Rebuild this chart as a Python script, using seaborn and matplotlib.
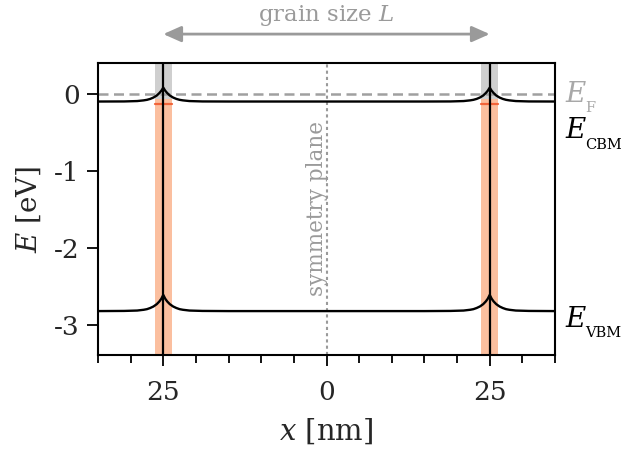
import matplotlib
matplotlib.use("Agg")
import matplotlib.pyplot as plt
import seaborn as sns
import pandas as pd

# ---- data ----
x_nm = [-35, -31, -29, -28, -27.5, -27, -26.5, -26, -25.6, -25.3, -25, -24.7, -24.4, -24,
        -23.5, -23, -22.5, -22, -21, -19, -15, 0, 15, 19, 21, 22, 22.5, 23, 23.5, 24,
        24.4, 24.7, 25, 25.3, 25.6, 26, 26.5, 27, 27.5, 28, 29, 31, 35]
E_cbm = [-0.10, -0.099, -0.094, -0.085, -0.078, -0.066, -0.048, -0.022, 0.01, 0.04, 0.08,
         0.04, 0.01, -0.022, -0.048, -0.066, -0.078, -0.085, -0.094, -0.099, -0.10, -0.10,
         -0.10, -0.099, -0.094, -0.085, -0.078, -0.066, -0.048, -0.022, 0.01, 0.04, 0.08,
         0.04, 0.01, -0.022, -0.048, -0.066, -0.078, -0.085, -0.094, -0.099, -0.10]
E_vbm = [-2.82, -2.818, -2.813, -2.803, -2.795, -2.78, -2.76, -2.73, -2.695, -2.66, -2.61,
         -2.66, -2.695, -2.73, -2.76, -2.78, -2.795, -2.803, -2.813, -2.818, -2.82, -2.82,
         -2.82, -2.818, -2.813, -2.803, -2.795, -2.78, -2.76, -2.73, -2.695, -2.66, -2.61,
         -2.66, -2.695, -2.73, -2.76, -2.78, -2.795, -2.803, -2.813, -2.818, -2.82]
E_fermi = 0.0
boundaries = [-25, 25]
boundary_halfwidth = 1.3
band_split = -0.07
defect_level = -0.135
xtick_pos = [-25, 0, 25]
xtick_labels = ["25", "0", "25"]
ytick_pos = [0, -1, -2, -3]
ytick_labels = ["0", "-1", "-2", "-3"]
level_names = ["F", "CBM", "VBM"]
level_label_y = [-0.01, -0.48, -2.93]
level_colors = ["#a8a8a8", "black", "black"]

sns.set_theme(style="ticks")
plt.rcParams["font.family"] = ["DejaVu Serif"]
plt.rcParams["mathtext.fontset"] = "dejavuserif"
plt.rcParams["axes.unicode_minus"] = False

fig = plt.figure(figsize=(6.21, 4.5), dpi=100)
ax = fig.add_axes([98 / 621, 1 - 355 / 450, (555 - 98) / 621, (355 - 63) / 450])

xlim = (-35, 35)
ylim = (-3.39, 0.40)
ax.set_xlim(*xlim)
ax.set_ylim(*ylim)

gray_txt = "#9a9a9a"
split_frac = (band_split - ylim[0]) / (ylim[1] - ylim[0])
for b in boundaries:
    ax.axvspan(b - boundary_halfwidth, b + boundary_halfwidth, ymin=split_frac,
               ymax=1, color="#cfcfcf", lw=0, zorder=1)
    ax.axvspan(b - boundary_halfwidth, b + boundary_halfwidth, ymin=0,
               ymax=split_frac, color="#fbbf9f", lw=0, zorder=1)
    ax.plot([b - boundary_halfwidth, b + boundary_halfwidth], [defect_level, defect_level],
            color="#f2643a", lw=1.6, zorder=2)
    ax.axvline(b, color="black", lw=1.6, zorder=3)

ax.axhline(E_fermi, color="#a0a0a0", lw=1.8, ls=(0, (4, 2.2)), zorder=2)
ax.axvline(0, color="#9a9a9a", lw=1.5, ls=(0, (1.5, 1.5)), zorder=2)

df = pd.DataFrame({"x": x_nm * 2, "E": E_cbm + E_vbm,
                   "band": ["CBM"] * len(x_nm) + ["VBM"] * len(x_nm)})
sns.lineplot(data=df, x="x", y="E", units="band", estimator=None, color="black",
             lw=1.7, ax=ax, zorder=4)

ax.set_xticks(xtick_pos)
ax.set_xticklabels(xtick_labels)
ax.set_xticks(list(range(-35, 36, 5)), minor=True)
ax.set_yticks(ytick_pos)
ax.set_yticklabels(ytick_labels)
ax.tick_params(axis="both", which="major", direction="out", length=8, width=1.3,
               labelsize=19, color="black")
ax.tick_params(axis="x", which="major", pad=10)
ax.tick_params(axis="y", which="major", pad=5)
ax.tick_params(axis="x", which="minor", direction="out", length=6, width=1.3, color="black")
for s in ax.spines.values():
    s.set_visible(True)
    s.set_linewidth(1.5)
    s.set_color("black")

ax.set_xlabel("$x$ [nm]", fontsize=21, labelpad=8)
ax.set_ylabel("$E$ [eV]", fontsize=20, labelpad=8)

for name, yv, col in zip(level_names, level_label_y, level_colors):
    ax.annotate("$E$", xy=(35, yv), xycoords="data", xytext=(7, 0), textcoords="offset points",
                color=col, fontsize=20, ha="left", va="center", annotation_clip=False)
    ax.annotate(name, xy=(35, yv), xycoords="data", xytext=(21.6, -10), textcoords="offset points",
                color=col, fontsize=10.5, ha="left", va="center", annotation_clip=False)

ax.text(-1.4, -1.49, "symmetry plane", rotation=90, color=gray_txt, fontsize=15.5,
        ha="center", va="center")

ax.annotate("", xy=(-25, 1.099), xytext=(25, 1.099),
            xycoords=("data", "axes fraction"), textcoords=("data", "axes fraction"),
            arrowprops=dict(arrowstyle="<|-|>,head_length=0.9,head_width=0.4", color="#9a9a9a",
                            lw=2, shrinkA=0, shrinkB=0), annotation_clip=False)
ax.text(0, 1.164, "grain size $L$", transform=ax.get_xaxis_transform(), color=gray_txt,
        fontsize=16.5, ha="center", va="center")

fig.savefig("out.png", dpi=100)
